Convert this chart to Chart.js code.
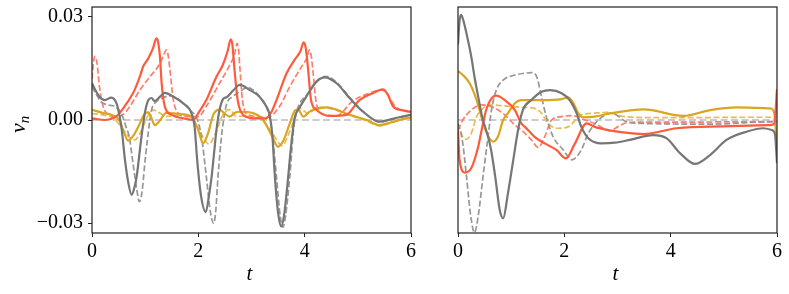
<!DOCTYPE html>
<html>
<head>
<meta charset="utf-8">
<script src="https://cdn.jsdelivr.net/npm/chart.js@4.4.0/dist/chart.umd.min.js"></script>
<style>
  html, body { margin: 0; padding: 0; background: #fff; }
  #wrap { position: relative; width: 789px; height: 294px; }
  canvas { position: absolute; top: 0; }
  #left { left: 0; }
  #right { left: 420px; }
</style>
</head>
<body>
<div id="wrap">
  <canvas id="left" width="420" height="294"></canvas>
  <canvas id="right" width="369" height="294"></canvas>
</div>
<script>
// ticks
const xTickValues = [0, 2, 4, 6];
const xTickLabels = ['0', '2', '4', '6'];
const yTickValues = [-0.03, 0, 0.03];
const yTickLabels = ['\u22120.03', '0.00', '0.03'];

const zeroT = [0, 6];
const zeroV = [0, 0];

// left panel
const leftGraySolidT = [0, 0.07, 0.14, 0.24, 0.36, 0.46, 0.52, 0.56, 0.62, 0.68, 0.745, 0.80, 0.84, 0.93, 1.0, 1.06, 1.12, 1.18, 1.28, 1.37, 1.53, 1.71, 1.87, 1.93, 1.98, 2.05, 2.14, 2.2, 2.25, 2.3, 2.34, 2.4, 2.47, 2.53, 2.65, 2.78, 2.97, 3.15, 3.28, 3.34, 3.39, 3.44, 3.5, 3.56, 3.61, 3.66, 3.75, 3.81, 3.9, 4.03, 4.22, 4.38, 4.6, 4.85, 5.1, 5.41, 5.57, 5.78, 6.0];
const leftGraySolidV = [0.0107, 0.0085, 0.0068, 0.0058, 0.0065, 0.0049, 0.001, -0.0029, -0.0116, -0.018, -0.0218, -0.0195, -0.0165, -0.0049, 0.0025, 0.0058, 0.0064, 0.0055, 0.0068, 0.0079, 0.0068, 0.0049, 0.002, -0.002, -0.012, -0.022, -0.0268, -0.022, -0.0165, -0.009, -0.003, 0.003, 0.0062, 0.0066, 0.0085, 0.0102, 0.0087, 0.0068, 0.0039, 0.0015, -0.004, -0.0165, -0.027, -0.031, -0.028, -0.0213, -0.0068, 0.0005, 0.0035, 0.0068, 0.0111, 0.0124, 0.0107, 0.0063, 0.0024, -0.0005, 0, 0.0008, 0.0015];

const leftGrayDashT = [0, 0.08, 0.17, 0.30, 0.43, 0.55, 0.64, 0.70, 0.78, 0.84, 0.89, 0.94, 1.0, 1.08, 1.13, 1.18, 1.31, 1.46, 1.65, 1.84, 1.97, 2.06, 2.15, 2.23, 2.29, 2.33, 2.37, 2.45, 2.53, 2.65, 2.8, 2.92, 3.05, 3.2, 3.32, 3.39, 3.47, 3.54, 3.59, 3.64, 3.72, 3.79, 3.86, 4.05, 4.22, 4.4, 4.6, 4.85, 5.1, 5.41, 5.6, 5.8, 6.0];
const leftGrayDashV = [0.0097, 0.0075, 0.0053, 0.0044, 0.0039, 0.002, -0.002, -0.0049, -0.0136, -0.02, -0.0238, -0.021, -0.0116, -0.001, 0.0035, 0.0049, 0.0063, 0.007, 0.0058, 0.0029, 0.0005, -0.0049, -0.0165, -0.027, -0.0301, -0.026, -0.0165, -0.0029, 0.0045, 0.0068, 0.0085, 0.0095, 0.0085, 0.0058, 0.002, -0.004, -0.0165, -0.028, -0.0312, -0.028, -0.0165, -0.0029, 0.003, 0.0075, 0.0113, 0.0127, 0.011, 0.0065, 0.0025, -0.0006, 0, 0.0009, 0.0015];

const leftRedSolidT = [0, 0.24, 0.43, 0.52, 0.61, 0.71, 0.8, 0.9, 0.96, 1.06, 1.15, 1.21, 1.24, 1.28, 1.31, 1.37, 1.5, 1.71, 1.9, 2.02, 2.15, 2.34, 2.46, 2.55, 2.61, 2.64, 2.68, 2.74, 2.84, 3.03, 3.28, 3.38, 3.47, 3.66, 3.81, 3.92, 3.98, 4.02, 4.06, 4.12, 4.22, 4.47, 4.78, 5.03, 5.28, 5.47, 5.56, 5.66, 5.85, 6.0];
const leftRedSolidV = [0.0005, 0, 0.0008, 0.002, 0.0039, 0.0062, 0.0087, 0.0126, 0.0155, 0.018, 0.021, 0.0238, 0.023, 0.018, 0.0107, 0.0039, 0.0015, 0.0005, 0, 0.0025, 0.0058, 0.0126, 0.016, 0.02, 0.0235, 0.022, 0.0147, 0.0058, 0.0015, 0.0005, 0.0005, 0.0025, 0.0058, 0.0136, 0.0175, 0.02, 0.0226, 0.021, 0.0155, 0.0058, 0.003, 0.0012, 0.0015, 0.0058, 0.0078, 0.0089, 0.0075, 0.004, 0.0028, 0.0024];

const leftRedDashT = [0, 0.03, 0.05, 0.09, 0.14, 0.21, 0.32, 0.5, 0.6, 0.71, 0.9, 1.09, 1.28, 1.35, 1.4, 1.43, 1.46, 1.53, 1.62, 1.78, 2.0, 2.15, 2.4, 2.59, 2.68, 2.73, 2.76, 2.78, 2.83, 2.94, 3.3, 3.53, 3.72, 3.94, 4.04, 4.09, 4.12, 4.16, 4.21, 4.31, 4.6, 4.9, 5.22, 5.45, 5.56, 5.7, 6.0];
const leftRedDashV = [0.012, 0.017, 0.0185, 0.017, 0.0097, 0.0039, 0.0015, 0.001, 0.0018, 0.0039, 0.0087, 0.0126, 0.0165, 0.019, 0.0204, 0.019, 0.0155, 0.0058, 0.002, 0.001, 0.001, 0.004, 0.0107, 0.016, 0.019, 0.0223, 0.02, 0.0155, 0.0058, 0.0015, 0.0008, 0.004, 0.0097, 0.0155, 0.018, 0.0204, 0.019, 0.0136, 0.0058, 0.002, 0.0012, 0.0055, 0.0078, 0.0088, 0.0074, 0.004, 0.0022];

const leftGoldSolidT = [0, 0.21, 0.36, 0.51, 0.6, 0.68, 0.78, 0.9, 1.0, 1.06, 1.12, 1.18, 1.26, 1.4, 1.6, 1.78, 1.9, 2.0, 2.09, 2.18, 2.28, 2.4, 2.5, 2.59, 2.7, 2.78, 3.03, 3.22, 3.38, 3.5, 3.6, 3.72, 3.82, 3.88, 3.97, 4.1, 4.22, 4.41, 4.85, 5.16, 5.41, 5.6, 5.78, 6.0];
const leftGoldSolidV = [0.003, 0.002, 0.0015, 0, -0.0035, -0.006, -0.0045, -0.001, 0.002, 0.0022, 0.0005, -0.0015, -0.0005, 0.0021, 0.0018, 0.0015, 0.0005, -0.003, -0.0068, -0.004, 0.0015, 0.003, 0.0018, 0.001, 0.0022, 0.0024, 0.002, 0, -0.0045, -0.0078, -0.006, -0.001, 0.0028, 0.003, 0.001, 0.0025, 0.0034, 0.0037, 0.0015, 0, -0.0015, -0.0008, 0, 0.0008];

const leftGoldDashT = [0, 0.2, 0.4, 0.55, 0.7, 0.81, 0.9, 1.0, 1.06, 1.15, 1.28, 1.4, 1.5, 1.65, 1.8, 1.9, 2.05, 2.2, 2.32, 2.46, 2.59, 2.72, 2.85, 3.0, 3.2, 3.4, 3.58, 3.7, 3.8, 3.91, 4.05, 4.2, 4.4, 4.85, 5.16, 5.41, 5.6, 5.8, 6.0];
const leftGoldDashV = [0.0019, 0.0015, 0.0005, -0.002, -0.005, -0.0058, -0.004, -0.0005, 0.0015, 0.0029, 0.002, 0.001, 0.0012, 0.0015, 0.0012, 0, -0.004, -0.007, -0.004, 0.0015, 0.003, 0.001, 0.0012, 0.001, 0, -0.004, -0.0075, -0.004, 0, 0.0034, 0.002, 0.003, 0.0035, 0.0013, -0.0002, -0.0017, -0.001, 0, 0.0006];

// right panel
const rightGraySolidT = [0, 0.03, 0.06, 0.1, 0.16, 0.25, 0.31, 0.38, 0.46, 0.54, 0.62, 0.7, 0.785, 0.85, 0.94, 1.04, 1.13, 1.22, 1.38, 1.57, 1.73, 1.95, 2.1, 2.23, 2.32, 2.45, 2.7, 2.95, 3.23, 3.67, 3.92, 4.18, 4.46, 4.74, 5.05, 5.43, 5.74, 5.9, 5.96, 6.0];
const rightGraySolidV = [0.022, 0.029, 0.0306, 0.029, 0.0252, 0.0184, 0.0126, 0.0068, 0.0005, -0.0035, -0.0085, -0.0165, -0.0262, -0.0286, -0.0213, -0.0116, -0.0029, 0.0029, 0.0058, 0.0082, 0.0087, 0.0078, 0.0058, 0.002, -0.002, -0.0053, -0.0068, -0.0066, -0.0058, -0.0044, -0.0053, -0.0097, -0.0128, -0.0102, -0.0058, -0.0034, -0.0024, -0.0029, -0.004, -0.0125];

const rightGrayDashT = [0, 0.05, 0.09, 0.16, 0.24, 0.31, 0.38, 0.47, 0.565, 0.63, 0.72, 0.85, 1.07, 1.25, 1.38, 1.48, 1.57, 1.66, 1.79, 1.98, 2.14, 2.32, 2.45, 2.64, 2.89, 3.17, 3.49, 4.75, 5.93, 6.0];
const rightGrayDashV = [-0.001, -0.0035, -0.0068, -0.0165, -0.028, -0.0328, -0.028, -0.0165, -0.0049, 0.0029, 0.0087, 0.0116, 0.0131, 0.0136, 0.0138, 0.0126, 0.0068, 0.001, -0.0049, -0.0087, -0.0116, -0.0087, -0.0039, 0, 0.002, -0.0005, -0.001, -0.0012, -0.0005, -0.0005];

const rightRedSolidT = [0, 0.03, 0.13, 0.25, 0.38, 0.47, 0.53, 0.63, 0.72, 0.88, 1.07, 1.19, 1.26, 1.44, 1.63, 1.85, 2.03, 2.2, 2.42, 2.57, 2.82, 3.1, 3.49, 4.11, 4.74, 5.87, 5.95, 6.0];
const rightRedSolidV = [-0.003, -0.0116, -0.0153, -0.014, -0.0078, -0.001, 0.0029, 0.0063, 0.0071, 0.0058, 0.0029, -0.001, -0.002, -0.0049, -0.0068, -0.0087, -0.0112, -0.0068, -0.001, -0.002, -0.0029, -0.0036, -0.0041, -0.0024, -0.0019, -0.0015, -0.001, 0.009];

const rightRedDashT = [0, 0.09, 0.25, 0.44, 0.63, 0.88, 1.07, 1.19, 1.38, 1.51, 1.63, 1.76, 1.95, 2.14, 2.39, 2.57, 2.75, 2.86, 3.0, 3.17, 3.5, 4.5, 5.5, 6.0];
const rightRedDashV = [-0.003, 0, 0.0029, 0.0044, 0.0039, 0.0015, -0.0015, -0.0029, -0.0058, -0.008, -0.0049, 0, 0.001, 0.0013, 0, -0.001, -0.0025, -0.0032, -0.002, -0.0008, -0.0006, -0.0006, -0.0005, -0.0005];

const rightGoldSolidT = [0, 0.09, 0.22, 0.35, 0.44, 0.53, 0.66, 0.75, 0.85, 0.94, 1.07, 1.19, 1.57, 1.95, 2.07, 2.17, 2.26, 2.35, 2.57, 2.89, 3.49, 4.24, 4.74, 5.24, 5.87, 5.95, 6.0];
const rightGoldSolidV = [0.0142, 0.0131, 0.0107, 0.0058, 0.001, -0.0034, -0.0063, -0.0049, 0, 0.002, 0.0049, 0.0058, 0.0058, 0.0061, 0.0066, 0.0049, 0.002, 0.0008, 0.001, 0.002, 0.0031, 0.0012, 0.0029, 0.0037, 0.0034, 0.002, -0.009];

const rightGoldDashT = [0, 0.09, 0.16, 0.25, 0.35, 0.44, 0.57, 0.88, 1.19, 1.44, 1.57, 1.69, 1.88, 2.07, 2.32, 2.57, 2.82, 3.05, 3.5, 4.5, 5.5, 6.0];
const rightGoldDashV = [-0.001, -0.0049, -0.0056, -0.0039, 0.001, 0.0029, 0.0044, 0.0041, 0.0037, 0.0034, 0.002, -0.001, -0.0024, -0.002, 0.0015, 0.002, 0.0022, 0.0012, 0.0007, 0.0007, 0.0008, 0.0008];

const GRAY = '#767676', GRAY_D = '#979797';
const RED = '#ff5a3c', RED_D = '#ff7d6b';
const GOLD = '#daa520', GOLD_D = '#e6bd50';
const FONT = '"Liberation Serif", "Times New Roman", serif';

const pts = (ts, vs) => ts.map((t, i) => ({ x: t, y: vs[i] }));

const solid = (ts, vs, color) => ({
    data: pts(ts, vs), borderColor: color, borderWidth: 2.2,
    pointRadius: 0, cubicInterpolationMode: 'monotone', order: 1
});
const dashed = (ts, vs, color) => ({
    data: pts(ts, vs), borderColor: color, borderWidth: 1.7, borderDash: [6, 2.6],
    pointRadius: 0, cubicInterpolationMode: 'monotone', order: 5
});
const zeroLine = () => ({
    data: pts(zeroT, zeroV), borderColor: '#cccccc', borderWidth: 1.8, borderDash: [7, 3.5],
    pointRadius: 0, order: 10
});

// box around plot area, like matplotlib spines
const framePlugin = {
    id: 'frame',
    afterDatasetsDraw(chart) {
        const { ctx, chartArea: a } = chart;
        ctx.save();
        ctx.strokeStyle = '#222';
        ctx.lineWidth = 1.2;
        ctx.strokeRect(a.left, a.top, a.right - a.left, a.bottom - a.top);
        ctx.restore();
    }
};

const axisText = {
    id: 'axisText',
    afterDraw(chart, args, opts) {
        const { ctx, chartArea: a } = chart;
        ctx.save();
        ctx.fillStyle = '#000';
        ctx.font = 'italic 21px ' + FONT;
        ctx.textAlign = 'center';
        ctx.textBaseline = 'alphabetic';
        ctx.fillText('t', (a.left + a.right) / 2 - 2, 280);
        if (opts.yLabel) {
            ctx.translate(25, 133);
            ctx.rotate(-Math.PI / 2);
            ctx.textAlign = 'left';
            ctx.font = 'italic 22px ' + FONT;
            ctx.fillText('v', 0, 0);
            const w = ctx.measureText('v').width;
            ctx.font = 'italic 15px ' + FONT;
            ctx.fillText('n', w, 4);
        }
        ctx.restore();
    }
};

const makeOptions = (showY) => ({
    responsive: false,
    animation: false,
    layout: { padding: { left: 0, right: showY ? 9 : 12, top: 7, bottom: 0 } },
    plugins: { legend: { display: false }, tooltip: { enabled: false }, axisText: { yLabel: showY } },
    scales: {
        x: {
            type: 'linear', min: 0, max: 6,
            afterBuildTicks: (s) => { s.ticks = xTickValues.map(v => ({ value: v })); },
            afterFit: (s) => { s.height = 61; s.paddingLeft = 0; s.paddingRight = 0; },
            grid: { drawOnChartArea: false, drawTicks: true, tickLength: 4, color: '#222' },
            border: { display: false },
            ticks: {
                color: '#000', padding: 3, maxRotation: 0, font: { family: FONT, size: 20 },
                callback: (v) => xTickLabels[xTickValues.indexOf(v)]
            }
        },
        y: {
            type: 'linear', min: -0.0329, max: 0.0329, display: showY,
            afterBuildTicks: (s) => { s.ticks = yTickValues.map(v => ({ value: v })); },
            afterFit: (s) => { s.width = showY ? 92 : 38; s.paddingTop = 0; s.paddingBottom = 0; },
            grid: { drawOnChartArea: false, drawTicks: true, tickLength: 4, color: '#222' },
            border: { display: false },
            ticks: {
                color: '#000', padding: 5, font: { family: FONT, size: 20 },
                callback: (v) => yTickLabels[yTickValues.indexOf(v)]
            }
        }
    }
});

new Chart(document.getElementById('left'), {
    type: 'line',
    data: {
        datasets: [
            zeroLine(),
            dashed(leftGrayDashT, leftGrayDashV, GRAY_D),
            dashed(leftRedDashT, leftRedDashV, RED_D),
            dashed(leftGoldDashT, leftGoldDashV, GOLD_D),
            solid(leftGraySolidT, leftGraySolidV, GRAY),
            solid(leftRedSolidT, leftRedSolidV, RED),
            solid(leftGoldSolidT, leftGoldSolidV, GOLD)
        ]
    },
    options: makeOptions(true),
    plugins: [framePlugin, axisText]
});

new Chart(document.getElementById('right'), {
    type: 'line',
    data: {
        datasets: [
            zeroLine(),
            dashed(rightGrayDashT, rightGrayDashV, GRAY_D),
            dashed(rightRedDashT, rightRedDashV, RED_D),
            dashed(rightGoldDashT, rightGoldDashV, GOLD_D),
            solid(rightGraySolidT, rightGraySolidV, GRAY),
            solid(rightRedSolidT, rightRedSolidV, RED),
            solid(rightGoldSolidT, rightGoldSolidV, GOLD)
        ]
    },
    options: makeOptions(false),
    plugins: [framePlugin, axisText]
});
</script>
</body>
</html>
